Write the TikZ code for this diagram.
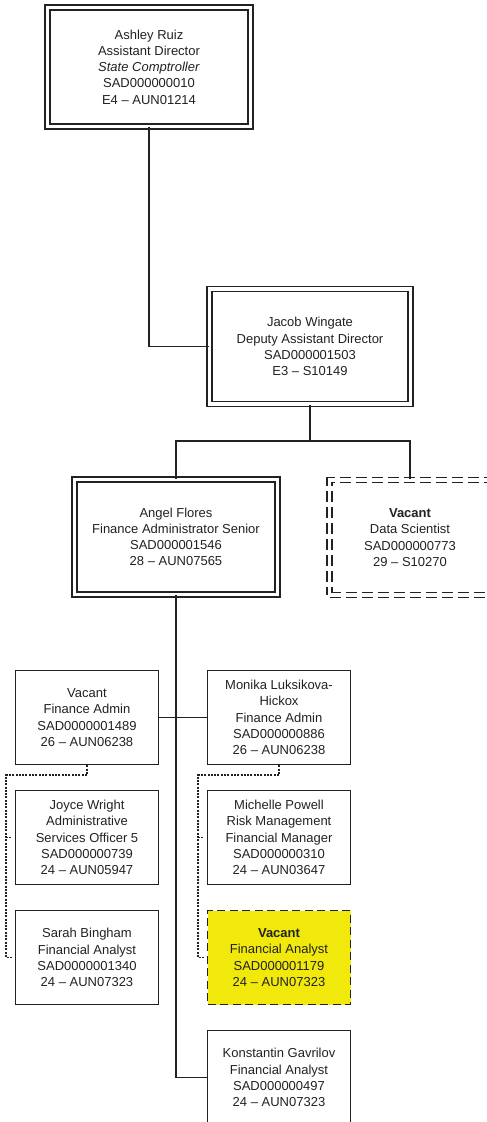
\documentclass[tikz,border=0pt]{standalone}
\usepackage{fontspec}
\setmainfont{Liberation Sans}
\definecolor{ink}{RGB}{34,34,34}
\definecolor{vacyellow}{RGB}{242,233,12}

\begin{document}
\begin{tikzpicture}[x=1pt,y=-1pt,
  font=\fontsize{13}{16.2}\selectfont,
  every node/.style={align=center, text=ink, inner sep=0pt},
  card/.style={draw=ink, line width=1.5pt, minimum width=143pt, minimum height=94pt},
  leadcard/.style={draw=ink, line width=1.5pt, double=white, double distance=3.2pt,
                   minimum width=203pt, minimum height=115pt},
  dashcard/.style={leadcard, dash pattern=on 11pt off 5pt},
  vacantcard/.style={card, fill=vacyellow, dash pattern=on 8pt off 4.5pt},
  link/.style={draw=ink, line width=1.5pt},
  dotlink/.style={draw=ink, line width=1.3pt, dash pattern=on 2pt off 1.3pt},
]
% page frame
\path[use as bounding box, clip] (0,0) rectangle (487,1122);
\fill[white] (0,0) rectangle (487,1122);

% leadership
\node[leadcard, minimum height=119pt] (ashley) at (149,67)
  {Ashley Ruiz\\Assistant Director\\\textit{State Comptroller}\\SAD000000010\\E4 – AUN01214};
\node[leadcard, minimum width=201pt] (jacob) at (310,346.5)
  {Jacob Wingate\\Deputy Assistant Director\\SAD000001503\\E3 – S10149};
\node[leadcard] (angel) at (176,537)
  {Angel Flores\\Finance Administrator Senior\\SAD000001546\\28 – AUN07565};
\node[dashcard, minimum width=161pt] (data) at (410,537.5)
  {\textbf{Vacant}\\Data Scientist\\SAD000000773\\29 – S10270};

% team
\node[card] (va) at (87,717.5)
  {Vacant\\Finance Admin\\SAD0000001489\\26 – AUN06238};
\node[card] (monika) at (279,717.5)
  {Monika Luksikova-\\Hickox\\Finance Admin\\SAD000000886\\26 – AUN06238};
\node[card] (joyce) at (87,837.5)
  {Joyce Wright\\Administrative\\Services Officer 5\\SAD000000739\\24 – AUN05947};
\node[card] (michelle) at (279,837.5)
  {Michelle Powell\\Risk Management\\Financial Manager\\SAD000000310\\24 – AUN03647};
\node[card] (sarah) at (87,957.5)
  {Sarah Bingham\\Financial Analyst\\SAD0000001340\\24 – AUN07323};
\node[vacantcard] (vacfa) at (279,957.5)
  {\textbf{Vacant}\\Financial Analyst\\SAD000001179\\24 – AUN07323};
\node[card] (konst) at (279,1077.5)
  {Konstantin Gavrilov\\Financial Analyst\\SAD000000497\\24 – AUN07323};

% reporting lines
\coordinate (split) at (293,441);
\coordinate (lbend) at (6,775);
\coordinate (rbend) at (198,775);

\draw[link] (ashley.south) |- (jacob.west);
\draw[link] (jacob.south) -- (jacob.south |- split);
\draw[link] (angel.north) |- (split) -| (data.north);
\draw[link] (angel.south) |- (konst.west);
\draw[link] (va.east) -- (monika.west);

% dotted lines
\draw[dotlink, shorten >=3pt] (va.south) |- (lbend) |- (sarah.west);
\draw[dotlink, shorten >=3pt] (lbend |- joyce.west) -- (joyce.west);
\draw[dotlink, shorten >=3pt] (monika.south) |- (rbend) |- (vacfa.west);
\draw[dotlink, shorten >=3pt] (rbend |- michelle.west) -- (michelle.west);
\end{tikzpicture}
\end{document}
